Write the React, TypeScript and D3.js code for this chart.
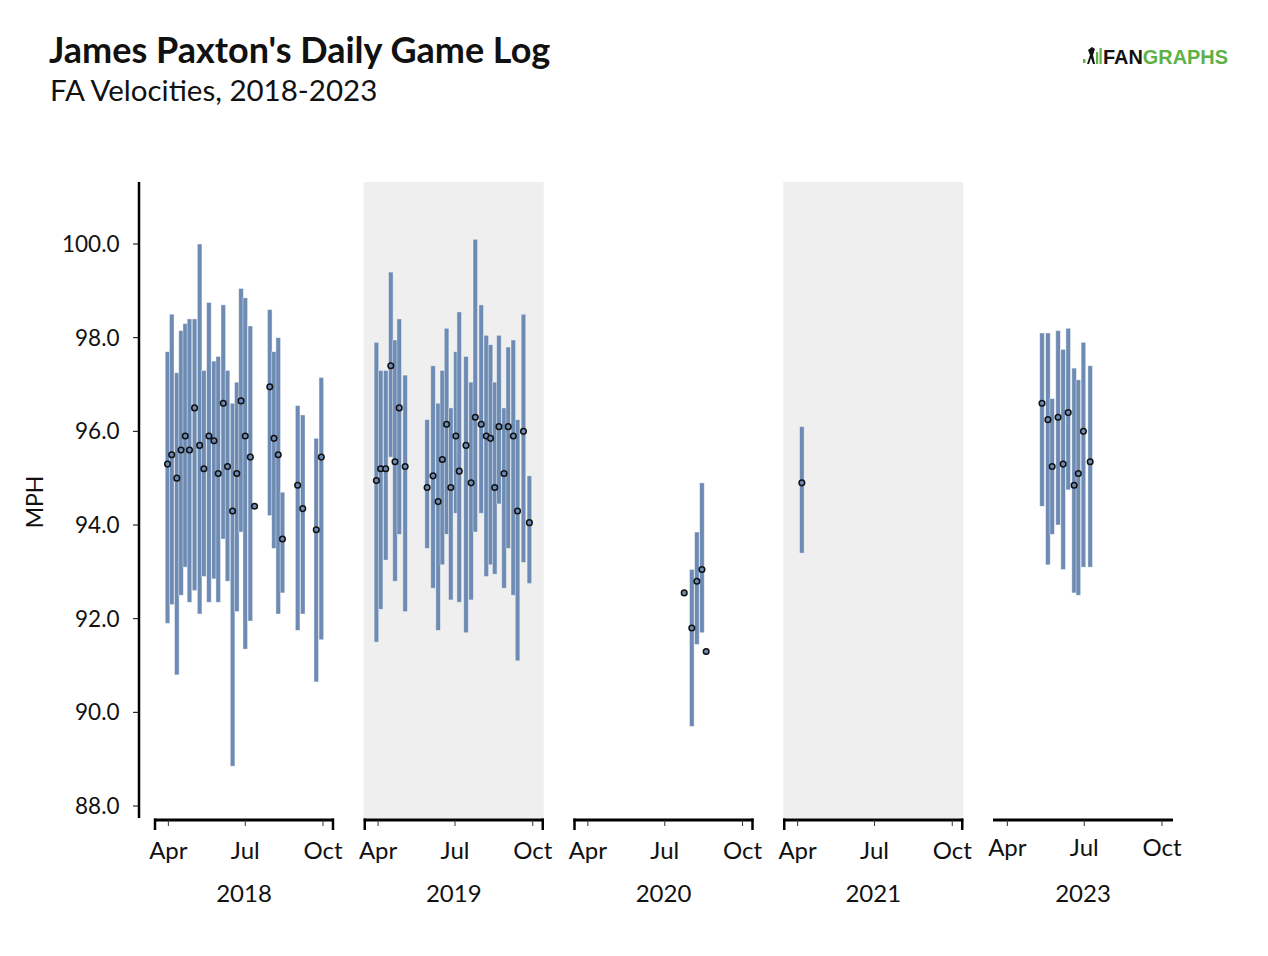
import React from "react";
import * as d3 from "d3";

const seasons = [2018, 2019, 2020, 2021, 2023];
const shadedSeasons = [2019, 2021];
const monthTicks = [
  { label: "Apr", month: 3 },
  { label: "Jul", month: 6 },
  { label: "Oct", month: 9 },
];
const yTicks = [88, 90, 92, 94, 96, 98, 100];

// [date, min velo, average velo, max velo]; null range => no bar drawn
const games2018: [string, number | null, number, number | null][] = [
  ["2018-03-31", 91.9, 95.3, 97.7],
  ["2018-04-05", 92.3, 95.5, 98.5],
  ["2018-04-11", 90.8, 95.0, 97.25],
  ["2018-04-16", 92.5, 95.6, 98.15],
  ["2018-04-21", 93.1, 95.9, 98.3],
  ["2018-04-26", 92.35, 95.6, 98.4],
  ["2018-05-02", 92.6, 96.5, 98.4],
  ["2018-05-08", 92.1, 95.7, 100.0],
  ["2018-05-13", 92.9, 95.2, 97.3],
  ["2018-05-19", 92.35, 95.9, 98.75],
  ["2018-05-25", 92.85, 95.8, 97.5],
  ["2018-05-30", 92.35, 95.1, 97.6],
  ["2018-06-05", 93.7, 96.6, 98.7],
  ["2018-06-10", 92.8, 95.25, 97.3],
  ["2018-06-16", 88.85, 94.3, 96.6],
  ["2018-06-21", 92.15, 95.1, 97.05],
  ["2018-06-26", 93.85, 96.65, 99.05],
  ["2018-07-01", 91.35, 95.9, 98.85],
  ["2018-07-07", 91.95, 95.45, 98.25],
  ["2018-07-12", null, 94.4, null],
  ["2018-07-30", 94.2, 96.95, 98.6],
  ["2018-08-04", 93.5, 95.85, 97.7],
  ["2018-08-09", 92.1, 95.5, 98.0],
  ["2018-08-14", 92.55, 93.7, 94.7],
  ["2018-09-01", 91.75, 94.85, 96.55],
  ["2018-09-07", 92.1, 94.35, 96.35],
  ["2018-09-23", 90.65, 93.9, 95.85],
  ["2018-09-29", 91.55, 95.45, 97.15],
];

const games2019: [string, number | null, number, number | null][] = [
  ["2019-03-30", 91.5, 94.95, 97.9],
  ["2019-04-04", 92.2, 95.2, 97.3],
  ["2019-04-10", 93.25, 95.2, 97.3],
  ["2019-04-16", 95.45, 97.4, 99.4],
  ["2019-04-21", 92.8, 95.35, 97.95],
  ["2019-04-26", 93.8, 96.5, 98.4],
  ["2019-05-03", 92.15, 95.25, 97.2],
  ["2019-05-29", 93.5, 94.8, 96.25],
  ["2019-06-05", 92.65, 95.05, 97.4],
  ["2019-06-11", 91.75, 94.5, 96.6],
  ["2019-06-16", 93.15, 95.4, 97.3],
  ["2019-06-21", 93.8, 96.15, 98.2],
  ["2019-06-26", 92.4, 94.8, 96.5],
  ["2019-07-02", 94.25, 95.9, 97.7],
  ["2019-07-06", 92.35, 95.15, 98.55],
  ["2019-07-14", 91.7, 95.7, 97.6],
  ["2019-07-20", 92.4, 94.9, 97.05],
  ["2019-07-25", 93.85, 96.3, 100.1],
  ["2019-08-01", 94.25, 96.15, 98.7],
  ["2019-08-07", 92.9, 95.9, 98.05],
  ["2019-08-12", 93.15, 95.85, 97.85],
  ["2019-08-17", 92.95, 94.8, 97.05],
  ["2019-08-22", 94.45, 96.1, 98.05],
  ["2019-08-28", 92.65, 95.1, 96.5],
  ["2019-09-02", 93.5, 96.1, 97.8],
  ["2019-09-08", 92.5, 95.9, 97.95],
  ["2019-09-13", 91.1, 94.3, 96.25],
  ["2019-09-20", 93.2, 96.0, 98.5],
  ["2019-09-27", 92.75, 94.05, 95.05],
];

const games2020: [string, number | null, number, number | null][] = [
  ["2020-07-24", null, 92.55, null],
  ["2020-08-02", 89.7, 91.8, 93.05],
  ["2020-08-08", 91.45, 92.8, 93.85],
  ["2020-08-14", 91.7, 93.05, 94.9],
  ["2020-08-19", null, 91.3, null],
];

const games2021: [string, number | null, number, number | null][] = [
  ["2021-04-06", 93.4, 94.9, 96.1],
];

const games2023: [string, number | null, number, number | null][] = [
  ["2023-05-12", 94.4, 96.6, 98.1],
  ["2023-05-19", 93.15, 96.25, 98.1],
  ["2023-05-24", 93.8, 95.25, 96.7],
  ["2023-05-31", 94.0, 96.3, 98.15],
  ["2023-06-06", 93.05, 95.3, 97.75],
  ["2023-06-12", 94.75, 96.4, 98.2],
  ["2023-06-19", 92.55, 94.85, 97.35],
  ["2023-06-24", 92.5, 95.1, 97.1],
  ["2023-06-30", 93.1, 96.0, 97.9],
  ["2023-07-08", 93.1, 95.35, 97.4],
];

const gameLists = [games2018, games2019, games2020, games2021, games2023];

const FONT = "Lato, 'Noto Sans', sans-serif";
const BAR = "#6e8bb3";

export default function App() {
  const W = 1268;
  const H = 956;
  const parse = d3.timeParse("%Y-%m-%d");
  const y = d3.scaleLinear().domain([88, 100]).range([806, 244]);
  const plotTop = 182;
  const plotBottom = 818;
  const axisY = 820;
  const panel0 = 154;
  const panelStep = 209.75;
  const panelW = 180;

  return (
    <svg
      width={W}
      height={H}
      style={{ position: "absolute", left: 0, top: 0, background: "#fff" }}
      fontFamily={FONT}
    >
      <text x={49} y={63} fontSize={36} fontWeight={700} fill="#111">
        James Paxton's Daily Game Log
      </text>
      <text x={50} y={101} fontSize={29.5} fill="#111">
        FA Velocities, 2018-2023
      </text>

      {/* FanGraphs logo */}
      <g>
        <rect x={1083} y={59} width={2.5} height={4} fill="#5fb146" />
        <path
          d="M1087,64 L1090,55 L1088,50 L1092,47 L1095,49 L1093,55 L1095,64 L1093,64 L1091,58 L1089,64 Z"
          fill="#111"
        />
        <rect x={1096} y={52} width={2.2} height={12} fill="#5fb146" />
        <rect x={1099.5} y={48} width={2.2} height={16} fill="#5fb146" />
        <text x={1103} y={64} fontSize={20} fontWeight={700} fontFamily="'Liberation Sans', Arial, sans-serif" textLength={125} lengthAdjust="spacingAndGlyphs">
          <tspan fill="#111">FAN</tspan>
          <tspan fill="#5fb146">GRAPHS</tspan>
        </text>
      </g>

      {/* Y axis */}
      <line x1={139} x2={139} y1={plotTop} y2={plotBottom} stroke="#000" strokeWidth={2.5} />
      {yTicks.map((t) => (
        <g key={t}>
          <line x1={133} x2={139} y1={y(t)} y2={y(t)} stroke="#000" strokeWidth={1} />
          <text x={119.5} y={y(t) + 8} fontSize={22.5} textAnchor="end" fill="#111">
            {t.toFixed(1)}
          </text>
        </g>
      ))}
      <text
        transform={`translate(43,502) rotate(-90)`}
        fontSize={23}
        textAnchor="middle"
        fill="#111"
      >
        MPH
      </text>

      {seasons.map((yr, i) => {
        const x0 = panel0 + i * panelStep;
        const xs = d3
          .scaleTime()
          .domain([new Date(yr, 2, 15), new Date(yr, 9, 14)])
          .range([x0, x0 + panelW]);
        const games = gameLists[i];
        const isLast = i === seasons.length - 1;
        const labelShift = isLast ? -3 : 0;
        return (
          <g key={yr}>
            {shadedSeasons.includes(yr) && (
              <rect x={x0} y={plotTop} width={panelW} height={plotBottom - plotTop} fill="#efefef" />
            )}
            {games
              .filter((g) => g[1] !== null && g[3] !== null)
              .map((g) => {
                const cx = xs(parse(g[0]) as Date);
                const top = y(g[3] as number);
                const bot = y(g[1] as number);
                return (
                  <rect
                    key={"b" + g[0]}
                    x={cx - 2.3}
                    y={top}
                    width={4.6}
                    height={bot - top}
                    fill={BAR}
                    stroke="#ffffff"
                    strokeOpacity={0.5}
                    strokeWidth={0.8}
                  />
                );
              })}
            {games.map((g) => (
              <circle
                key={"d" + g[0]}
                cx={xs(parse(g[0]) as Date)}
                cy={y(g[2])}
                r={2.8}
                fill={BAR}
                stroke="#111"
                strokeWidth={1.5}
              />
            ))}
            {/* x axis */}
            <line x1={x0} x2={x0 + panelW} y1={axisY} y2={axisY} stroke="#000" strokeWidth={3} />
            {!isLast && (
              <>
                <line x1={x0 + 1} x2={x0 + 1} y1={axisY - 1.5} y2={axisY + 10} stroke="#000" strokeWidth={2.5} />
                <line x1={x0 + panelW - 1} x2={x0 + panelW - 1} y1={axisY - 1.5} y2={axisY + 10} stroke="#000" strokeWidth={2.5} />
              </>
            )}
            {monthTicks.map((m) => {
              const tx = xs(new Date(yr, m.month, 1));
              return (
                <g key={m.label}>
                  <line x1={tx} x2={tx} y1={axisY} y2={axisY + 6} stroke="#333" strokeWidth={1} />
                  <text x={tx} y={859 + labelShift} fontSize={24} textAnchor="middle" fill="#111">
                    {m.label}
                  </text>
                </g>
              );
            })}
            <text x={x0 + panelW / 2} y={902} fontSize={24} textAnchor="middle" fill="#111">
              {yr}
            </text>
          </g>
        );
      })}
    </svg>
  );
}
